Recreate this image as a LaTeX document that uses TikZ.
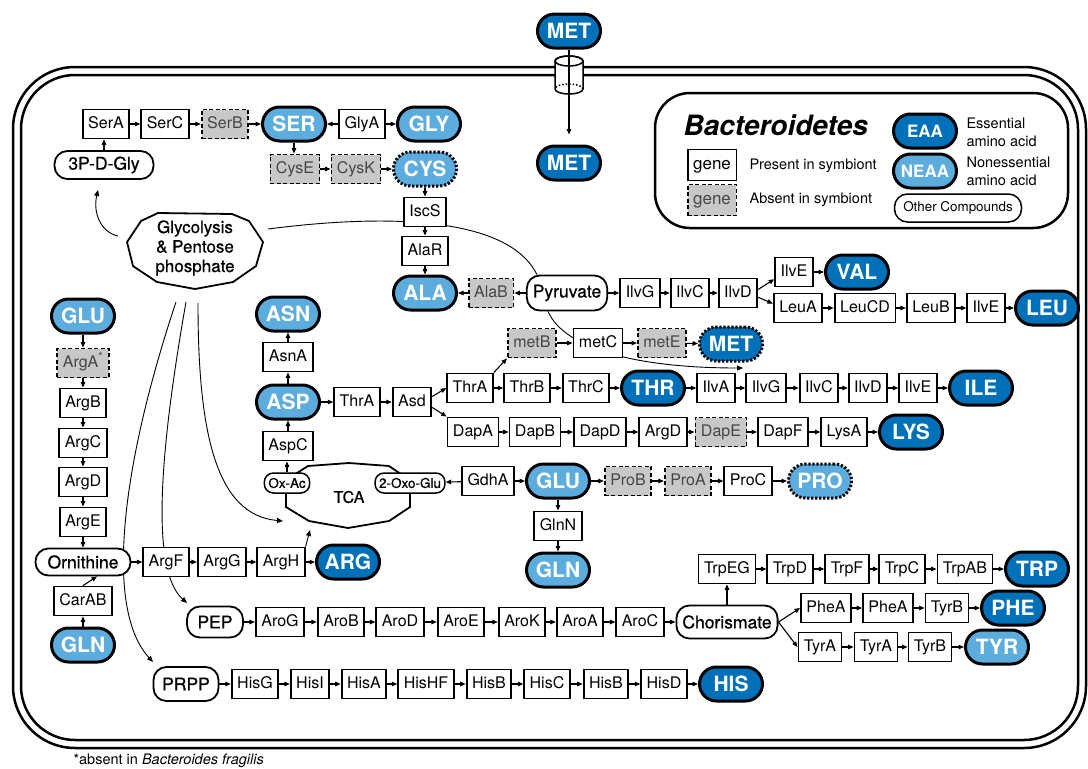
\documentclass[tikz,border=0pt]{standalone}
\usepackage{fontspec}
\setmainfont{TeX Gyre Heros}
\newfontfamily\medfont[FakeBold=0.6]{TeX Gyre Heros}
\usepackage{tikz}
\usetikzlibrary{calc,positioning,arrows.meta,shapes,backgrounds}
\definecolor{eaablue}{RGB}{0,112,185}
\definecolor{neaablue}{RGB}{92,172,222}
\definecolor{absgray}{RGB}{200,200,200}
\definecolor{abstext}{RGB}{70,70,70}
\tikzstyle{gene}      = [rectangle, draw=black, line width=1.8pt, fill=white, minimum height=29pt, inner xsep=5.5pt, inner ysep=0pt, text height=11.5pt, text depth=3.3pt, font=\fontsize{16}{18}\selectfont]
\tikzstyle{absent}    = [gene, fill=absgray, text=abstext, dash pattern=on 4pt off 2.5pt]
\tikzstyle{eaa}       = [rectangle, rounded corners=17pt, draw=black, line width=3pt, fill=eaablue, text=white, minimum width=63pt, minimum height=34pt, inner sep=0pt, font=\bfseries\fontsize{21}{24}\selectfont]
\tikzstyle{neaa}      = [eaa, fill=neaablue]
\tikzstyle{lost}      = [dash pattern=on 2.2pt off 1.8pt]
\tikzstyle{cmpd}      = [rectangle, rounded corners=13pt, draw=black, line width=1.8pt, fill=white, minimum height=32pt, inner xsep=6pt, font=\medfont\fontsize{17.5}{20}\selectfont]
\tikzstyle{smallcmpd} = [cmpd, rounded corners=9pt, minimum height=20pt, line width=1.5pt, inner xsep=4pt, font=\medfont\fontsize{13.5}{15}\selectfont]
\tikzstyle{keytext}   = [anchor=west, align=left, font=\fontsize{14.5}{18}\selectfont]
\tikzstyle{arrow}     = [line width=1.1pt, -{Triangle[length=5.5pt,width=4.5pt]}]
\tikzstyle{route}     = [line width=0.9pt]
\tikzstyle{routearrow}= [route, -{Triangle[length=6pt,width=5pt]}]
\begin{document}
\begin{tikzpicture}[x=1pt,y=-1pt]
	\useasboundingbox (0,0) rectangle (1088,769);
	\draw[line width=2.5pt, rounded corners=62pt] (13,67) rectangle (1086,748);
	\draw[line width=2.5pt, rounded corners=54pt] (21,75) rectangle (1078,740);

	\node[eaa] (METout) at (569,31) {MET};
	\draw[line width=1.5pt, fill=white] (555,61) -- (555,89) arc[start angle=180, end angle=360, x radius=14pt, y radius=5pt] -- (583,61) arc[start angle=0, end angle=180, x radius=14pt, y radius=5pt] -- cycle;
	\draw[line width=1.5pt] (569,61) ellipse[x radius=14pt, y radius=5pt];
	\draw[line width=1.5pt, dotted] (583,89) arc[start angle=0, end angle=180, x radius=14pt, y radius=5pt];
	\node[eaa] (METin) at (569,163) {MET};
	\draw[arrow, shorten >=10pt] (METout) -- (METin);

	\draw[line width=2.5pt, rounded corners=35pt] (655,93) rectangle (1068,228);
	\node[anchor=west, font=\bfseries\itshape\fontsize{28}{32}\selectfont] (title) at (680,125) {Bacteroidetes};
	\node[gene, font=\fontsize{17}{20}\selectfont, minimum height=31pt] (keygene) at (712,165) {gene};
	\node[absent, font=\fontsize{17}{20}\selectfont, minimum height=31pt] (keyabs) at (712,200) {gene};
	\node[keytext] (keypresent) at (746,166) {Present in symbiont};
	\node[keytext] (keyabsent) at (746,200) {Absent in symbiont};
	\node[eaa, font=\bfseries\fontsize{17}{20}\selectfont] (keyeaa) at (925,131) {EAA};
	\node[neaa, font=\bfseries\fontsize{17}{20}\selectfont] (keyneaa) at (925,171) {NEAA};
	\node[keytext] (keyess) at (963,132) {Essential\\amino acid};
	\node[keytext] (keynon) at (963,171) {Nonessential\\amino acid};
	\node[cmpd, font=\fontsize{13.4}{15}\selectfont, minimum height=28pt, minimum width=127pt, line width=1.5pt] (keyother) at (958,208) {Other Compounds};

	\draw[line width=1.8pt, fill=white] (127,242) -- (141,221) -- (158,213) -- (232,214) -- (249,221) -- (263,242) -- (256,266) -- (233,282) -- (195,289) -- (157,282) -- (133,266) -- cycle;
	\node[align=center, font=\medfont\fontsize{17}{19.5}\selectfont] (glyc) at (195,248) {Glycolysis\\\& Pentose\\phosphate};
	\draw[line width=1.8pt, fill=white] (286,480) -- (308,466) -- (349,463) -- (389,466) -- (410,480) -- (410,507) -- (389,521) -- (348,528) -- (309,521) -- (286,507) -- cycle;
	\node[font=\medfont\fontsize{16}{18}\selectfont] (tca) at (349,497) {TCA};

	\node[gene] (SerA) at (106,124) {SerA};
	\node[gene] (SerC) at (165,124) {SerC};
	\node[absent] (SerB) at (225,124) {SerB};
	\node[neaa] (SER) at (294,124) {SER};
	\node[gene] (GlyA) at (362,124) {GlyA};
	\node[neaa] (GLY) at (429,124) {GLY};
	\node[cmpd, minimum width=99pt, minimum height=28pt] (PDG) at (104,165) {3P-D-Gly};
	\node[absent] (CysE) at (295,169) {CysE};
	\node[absent] (CysK) at (356,169) {CysK};
	\node[neaa, lost] (CYS) at (425,169) {CYS};
	\node[gene] (IscS) at (425,212) {IscS};
	\node[gene] (AlaR) at (425,251) {AlaR};
	\node[neaa] (ALA) at (425,293) {ALA};
	\node[absent] (AlaB) at (491,293) {AlaB};
	\node[cmpd, minimum width=80pt, minimum height=35pt] (Pyr) at (567,293) {Pyruvate};
	\node[gene] (IlvGa) at (640,293) {IlvG};
	\node[gene] (IlvCa) at (690,293) {IlvC};
	\node[gene] (IlvDa) at (738,293) {IlvD};
	\node[gene] (IlvEv) at (794,272) {IlvE};
	\node[eaa] (VAL) at (857,272) {VAL};
	\node[gene] (LeuA) at (798,308) {LeuA};
	\node[gene] (LeuCD) at (865,308) {LeuCD};
	\node[gene] (LeuB) at (931,308) {LeuB};
	\node[gene] (IlvEl) at (986,308) {IlvE};
	\node[eaa] (LEU) at (1047,308) {LEU};

	\node[absent] (metB) at (532,343) {metB};
	\node[gene] (metC) at (598,343) {metC};
	\node[absent] (metE) at (662,343) {metE};
	\node[eaa, lost] (METb) at (731,344) {MET};
	\node[gene] (ThrAb) at (470,388) {ThrA};
	\node[gene] (ThrB) at (527,388) {ThrB};
	\node[gene] (ThrC) at (586,388) {ThrC};
	\node[eaa] (THR) at (653,388) {THR};
	\node[gene] (IlvA) at (716,388) {IlvA};
	\node[gene] (IlvGb) at (766,388) {IlvG};
	\node[gene] (IlvCb) at (819,388) {IlvC};
	\node[gene] (IlvDb) at (868,388) {IlvD};
	\node[gene] (IlvEb) at (918,388) {IlvE};
	\node[eaa] (ILE) at (981,388) {ILE};
	\node[gene] (DapA) at (473,432) {DapA};
	\node[gene] (DapB) at (535,432) {DapB};
	\node[gene] (DapD) at (600,432) {DapD};
	\node[gene] (ArgDb) at (663,432) {ArgD};
	\node[absent] (DapE) at (721,432) {DapE};
	\node[gene] (DapF) at (783,432) {DapF};
	\node[gene] (LysA) at (844,432) {LysA};
	\node[eaa] (LYS) at (911,432) {LYS};

	\node[neaa] (ASN) at (288,314) {ASN};
	\node[gene] (AsnA) at (288,357) {AsnA};
	\node[neaa] (ASP) at (288,402) {ASP};
	\node[gene] (ThrAa) at (357,402) {ThrA};
	\node[gene] (Asd) at (412,402) {Asd};
	\node[gene] (AspC) at (288,446) {AspC};
	\node[smallcmpd] (OxAc) at (287,483) {Ox-Ac};
	\node[smallcmpd] (OxoGlu) at (410,483) {2-Oxo-Glu};
	\node[gene] (GdhA) at (488,481) {GdhA};
	\node[neaa] (GLUb) at (558,481) {GLU};
	\node[absent] (ProB) at (628,481) {ProB};
	\node[absent] (ProA) at (688,481) {ProA};
	\node[gene] (ProC) at (748,481) {ProC};
	\node[neaa, lost] (PRO) at (820,481) {PRO};
	\node[gene] (GlnN) at (558,526) {GlnN};
	\node[neaa] (GLNb) at (558,570) {GLN};

	\node[neaa] (GLUa) at (83,316) {GLU};
	\node[absent] (ArgA) at (83,363) {ArgA\textsuperscript{*}};
	\node[gene] (ArgB) at (83,403) {ArgB};
	\node[gene] (ArgC) at (83,443) {ArgC};
	\node[gene] (ArgDa) at (83,482) {ArgD};
	\node[gene] (ArgE) at (83,522) {ArgE};
	\node[cmpd, minimum width=95pt, minimum height=27pt] (Orn) at (83,562) {Ornithine};
	\node[gene] (CarAB) at (83,601) {CarAB};
	\node[neaa] (GLNa) at (83,645) {GLN};
	\node[gene] (ArgF) at (166,562) {ArgF};
	\node[gene] (ArgG) at (222,562) {ArgG};
	\node[gene] (ArgH) at (281,562) {ArgH};
	\node[eaa] (ARG) at (348,562) {ARG};

	\node[cmpd, minimum width=56pt, minimum height=31pt] (PEP) at (215,622) {PEP};
	\node[gene] (AroG) at (280,622) {AroG};
	\node[gene] (AroB) at (341,622) {AroB};
	\node[gene] (AroD) at (400,622) {AroD};
	\node[gene] (AroE) at (461,622) {AroE};
	\node[gene] (AroK) at (522,622) {AroK};
	\node[gene] (AroA) at (580,622) {AroA};
	\node[gene] (AroC) at (640,622) {AroC};
	\node[cmpd, minimum width=101pt, minimum height=33pt] (Chor) at (727,622) {Chorismate};
	\node[gene] (TrpEG) at (727,569) {TrpEG};
	\node[gene] (TrpD) at (790,569) {TrpD};
	\node[gene] (TrpF) at (847,569) {TrpF};
	\node[gene] (TrpC) at (902,569) {TrpC};
	\node[gene] (TrpAB) at (965,569) {TrpAB};
	\node[eaa] (TRP) at (1037,569) {TRP};
	\node[gene] (PheAa) at (826,608) {PheA};
	\node[gene] (PheAb) at (888,608) {PheA};
	\node[gene] (TyrBa) at (947,608) {TyrB};
	\node[eaa] (PHE) at (1013,608) {PHE};
	\node[gene] (TyrAa) at (820,647) {TyrA};
	\node[gene] (TyrAb) at (876,647) {TyrA};
	\node[gene] (TyrBb) at (930,647) {TyrB};
	\node[neaa] (TYR) at (997,647) {TYR};

	\node[cmpd, minimum width=65pt, minimum height=34pt] (PRPP) at (186,684) {PRPP};
	\node[gene] (HisG) at (255,684) {HisG};
	\node[gene] (HisI) at (310,684) {HisI};
	\node[gene] (HisA) at (364,684) {HisA};
	\node[gene] (HisHF) at (426,684) {HisHF};
	\node[gene] (HisBa) at (489,684) {HisB};
	\node[gene] (HisC) at (547,684) {HisC};
	\node[gene] (HisBb) at (606,684) {HisB};
	\node[gene] (HisD) at (664,684) {HisD};
	\node[eaa] (HIS) at (731,684) {HIS};

	\node[anchor=west, font=\fontsize{14.5}{17}\selectfont] (note) at (70,761) {*absent in \textit{Bacteroides fragilis}};

	\coordinate (gl) at (118,236);
	\coordinate (gr) at (268,229);
	\coordinate (g1) at (176,302);
	\coordinate (g2) at (186,302);
	\coordinate (g3) at (198,303);
	\coordinate (pdgin) at (98,190);
	\coordinate (prppin) at (153,662);
	\coordinate (pepin) at (187,603);
	\coordinate (tcain) at (283,521);
	\coordinate (tcaB) at (310,530);
	\coordinate (ilein) at (743,368);

	\begin{scope}[on background layer]
		\draw[routearrow] (gl) .. controls (100,232) and (93,212) .. (pdgin);
		\draw[route] (gr) .. controls (400,212) and (510,220) .. ([xshift=-30pt]Pyr.north);
		\draw[routearrow] ([xshift=-19pt]Pyr.south) .. controls (565,350) and (640,368) .. (ilein);
		\draw[routearrow] (g1) .. controls (120,470) and (105,610) .. (prppin);
		\draw[routearrow] (g2) .. controls (160,450) and (150,570) .. (pepin);
		\draw[routearrow] (g3) .. controls (198,430) and (215,515) .. (tcain);
		\draw[routearrow] (ArgH.north east) -- (tcaB);
	\end{scope}

	\draw[arrow] (PDG) -- (PDG |- SerA.south);
	\draw[arrow] (SerA) -- (SerC);
	\draw[arrow] (SerC) -- (SerB);
	\draw[arrow] (SerB) -- (SER);
	\draw[arrow] (GlyA) -- (SER);
	\draw[arrow] (GlyA) -- (GLY);
	\draw[arrow] (SER) -- (SER |- CysE.north);
	\draw[arrow] (CysE) -- (CysK);
	\draw[arrow] (CysK) -- (CYS);
	\draw[arrow] (CYS) -- (IscS);
	\draw[arrow] (IscS) -- (AlaR);
	\draw[arrow] (AlaR) -- (ALA);
	\draw[arrow] (Pyr) -- (AlaB);
	\draw[arrow] (AlaB) -- (ALA);
	\draw[arrow] (Pyr) -- (IlvGa);
	\draw[arrow] (IlvGa) -- (IlvCa);
	\draw[arrow] (IlvCa) -- (IlvDa);
	\draw[arrow] (IlvDa.10) -- (IlvEv.200);
	\draw[arrow] (IlvDa.-12) -- (LeuA.170);
	\draw[arrow] (IlvEv) -- (VAL);
	\draw[arrow] (LeuA) -- (LeuCD);
	\draw[arrow] (LeuCD) -- (LeuB);
	\draw[arrow] (LeuB) -- (IlvEl);
	\draw[arrow] (IlvEl) -- (LEU);

	\draw[arrow] (ThrAb.north east) -- (metB.south west);
	\draw[arrow] (metB) -- (metC);
	\draw[arrow] (metC) -- (metE);
	\draw[arrow] (metE) -- (METb);
	\draw[arrow] (ASP) -- (ThrAa);
	\draw[arrow] (ThrAa) -- (Asd);
	\draw[arrow] (Asd.15) -- (ThrAb.west);
	\draw[arrow] (Asd.-15) -- (DapA.north west);
	\draw[arrow] (ThrAb) -- (ThrB);
	\draw[arrow] (ThrB) -- (ThrC);
	\draw[arrow] (ThrC) -- (THR);
	\draw[arrow] (THR) -- (IlvA);
	\draw[arrow] (IlvA) -- (IlvGb);
	\draw[arrow] (IlvGb) -- (IlvCb);
	\draw[arrow] (IlvCb) -- (IlvDb);
	\draw[arrow] (IlvDb) -- (IlvEb);
	\draw[arrow] (IlvEb) -- (ILE);
	\draw[arrow] (DapA) -- (DapB);
	\draw[arrow] (DapB) -- (DapD);
	\draw[arrow] (DapD) -- (ArgDb);
	\draw[arrow] (ArgDb) -- (DapE);
	\draw[arrow] (DapE) -- (DapF);
	\draw[arrow] (DapF) -- (LysA);
	\draw[arrow] (LysA) -- (LYS);

	\draw[arrow] (OxAc) -- (OxAc |- AspC.south);
	\draw[arrow] (AspC) -- (ASP);
	\draw[arrow] (ASP) -- (AsnA);
	\draw[arrow] (AsnA) -- (ASN);
	\draw[arrow] (GdhA) -- (OxoGlu);
	\draw[arrow] (GdhA) -- (GLUb);
	\draw[arrow] (GLUb) -- (ProB);
	\draw[arrow] (ProB) -- (ProA);
	\draw[arrow] (ProA) -- (ProC);
	\draw[arrow] (ProC) -- (PRO);
	\draw[arrow] (GLUb) -- (GlnN);
	\draw[arrow] (GlnN) -- (GLNb);

	\draw[arrow] (GLUa) -- (ArgA);
	\draw[arrow] (ArgA) -- (ArgB);
	\draw[arrow] (ArgB) -- (ArgC);
	\draw[arrow] (ArgC) -- (ArgDa);
	\draw[arrow] (ArgDa) -- (ArgE);
	\draw[arrow] (ArgE) -- (Orn);
	\draw[arrow] (GLNa) -- (CarAB);
	\draw[arrow] (CarAB.north) -- ([xshift=14pt]Orn.south);
	\draw[arrow] (Orn) -- (ArgF);
	\draw[arrow] (ArgF) -- (ArgG);
	\draw[arrow] (ArgG) -- (ArgH);
	\draw[arrow] (ArgH) -- (ARG);

	\draw[arrow] (PEP) -- (AroG);
	\draw[arrow] (AroG) -- (AroB);
	\draw[arrow] (AroB) -- (AroD);
	\draw[arrow] (AroD) -- (AroE);
	\draw[arrow] (AroE) -- (AroK);
	\draw[arrow] (AroK) -- (AroA);
	\draw[arrow] (AroA) -- (AroC);
	\draw[arrow] (AroC) -- (Chor);
	\draw[arrow] (Chor) -- (TrpEG);
	\draw[arrow] (TrpEG) -- (TrpD);
	\draw[arrow] (TrpD) -- (TrpF);
	\draw[arrow] (TrpF) -- (TrpC);
	\draw[arrow] (TrpC) -- (TrpAB);
	\draw[arrow] (TrpAB) -- (TRP);
	\draw[arrow] (Chor.east) -- (PheAa.west);
	\draw[arrow] (Chor.east) -- (TyrAa.west);
	\draw[arrow] (PheAa) -- (PheAb);
	\draw[arrow] (PheAb) -- (TyrBa);
	\draw[arrow] (TyrBa) -- (PHE);
	\draw[arrow] (TyrAa) -- (TyrAb);
	\draw[arrow] (TyrAb) -- (TyrBb);
	\draw[arrow] (TyrBb) -- (TYR);

	\draw[arrow] (PRPP) -- (HisG);
	\draw[arrow] (HisG) -- (HisI);
	\draw[arrow] (HisI) -- (HisA);
	\draw[arrow] (HisA) -- (HisHF);
	\draw[arrow] (HisHF) -- (HisBa);
	\draw[arrow] (HisBa) -- (HisC);
	\draw[arrow] (HisC) -- (HisBb);
	\draw[arrow] (HisBb) -- (HisD);
	\draw[arrow] (HisD) -- (HIS);
\end{tikzpicture}
\end{document}
